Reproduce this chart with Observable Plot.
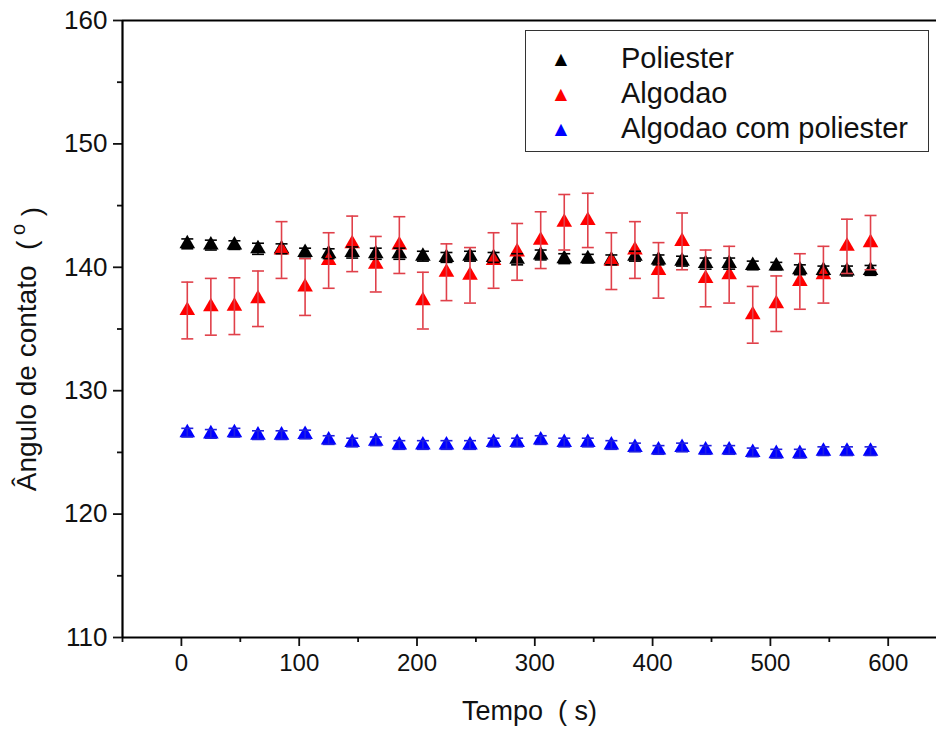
<!DOCTYPE html>
<html>
<head>
<meta charset="utf-8">
<script src="https://cdn.jsdelivr.net/npm/d3@7"></script>
<script src="https://cdn.jsdelivr.net/npm/@observablehq/plot@0.6"></script>
<style>
  body { margin: 0; background: #fff; }
  #wrap { position: relative; width: 936px; height: 733px; font-family: "Liberation Sans", Arial, sans-serif; }
  #legend { position: absolute; left: 525px; top: 30px; width: 404px; height: 122px; border: 1.5px solid #333; background: #fff; box-sizing: border-box; }
  .row { position: absolute; left: 0; height: 35px; display: flex; align-items: center; font-size: 29px; color: #111; white-space: nowrap; }
  .sym { display: inline-block; width: 70px; margin-right: 25px; text-align: center; font-size: 21px; }
</style>
</head>
<body>
<div id="wrap"></div>
<script>
// ---- data ----
const seriesNames = ["Poliester", "Algodao", "Algodao com poliester"];
const seriesColors = ["#000000", "#ff0000", "#0000ff"];
const errColors = ["#000000", "#e0404a", "#2020e0"];
const times = [5, 25, 45, 65, 85, 105, 125, 145, 165, 185, 205, 225, 245, 265, 285, 305, 325, 345, 365, 385, 405, 425, 445, 465, 485, 505, 525, 545, 565, 585];
const poliester = [141.9, 141.8, 141.8, 141.5, 141.5, 141.2, 141.1, 141.2, 141.1, 141.1, 140.9, 140.8, 140.9, 140.8, 140.65, 141.0, 140.7, 140.7, 140.6, 140.9, 140.6, 140.5, 140.3, 140.3, 140.15, 140.1, 139.8, 139.75, 139.7, 139.75];
const poliesterErr = [0.4, 0.4, 0.35, 0.45, 0.4, 0.35, 0.4, 0.45, 0.45, 0.45, 0.4, 0.4, 0.4, 0.4, 0.45, 0.4, 0.4, 0.35, 0.4, 0.4, 0.4, 0.4, 0.45, 0.45, 0.35, 0.3, 0.4, 0.35, 0.4, 0.4];
const algodao = [136.5, 136.8, 136.85, 137.45, 141.4, 138.4, 140.55, 141.9, 140.25, 141.8, 137.3, 139.6, 139.35, 140.55, 141.25, 142.2, 143.65, 143.8, 140.5, 141.4, 139.75, 142.1, 139.1, 139.4, 136.15, 137.05, 138.85, 139.4, 141.7, 142.0];
const algodaoErr = [2.3, 2.3, 2.3, 2.25, 2.3, 2.3, 2.25, 2.25, 2.25, 2.3, 2.3, 2.3, 2.25, 2.25, 2.3, 2.3, 2.25, 2.2, 2.3, 2.3, 2.25, 2.3, 2.3, 2.3, 2.3, 2.25, 2.25, 2.3, 2.2, 2.2];
const mistura = [126.6, 126.5, 126.6, 126.4, 126.4, 126.45, 126.0, 125.8, 125.9, 125.6, 125.6, 125.6, 125.6, 125.8, 125.8, 126.0, 125.8, 125.8, 125.6, 125.4, 125.2, 125.4, 125.2, 125.2, 125.0, 124.9, 124.9, 125.1, 125.1, 125.1];
const misturaErr = [0.35, 0.35, 0.35, 0.35, 0.35, 0.35, 0.35, 0.35, 0.35, 0.35, 0.35, 0.35, 0.35, 0.35, 0.35, 0.35, 0.35, 0.35, 0.35, 0.35, 0.35, 0.35, 0.35, 0.35, 0.35, 0.35, 0.35, 0.35, 0.35, 0.35];
const xTicks = [0, 100, 200, 300, 400, 500, 600];
const xMinorTicks = [-50, 50, 150, 250, 350, 450, 550];
const yTicks = [110, 120, 130, 140, 150, 160];
const yMinorTicks = [115, 125, 135, 145, 155];
const xDomain = [-50, 641];
const yDomain = [110, 160];
const xLabel = "Tempo  ( s)";
const yLabel = "Ângulo de contato  (";
const yLabelSup = "o";
const yLabelEnd = ")";

// ---- build table ----
const values = [poliester, algodao, mistura];
const errs = [poliesterErr, algodaoErr, misturaErr];
const rows = [];
seriesNames.forEach((name, s) => {
  times.forEach((t, i) => {
    rows.push({series: name, s, t, v: values[s][i], lo: values[s][i] - errs[s][i], hi: values[s][i] + errs[s][i]});
  });
});

const cap = {draw(ctx, size) { ctx.moveTo(-6, 0); ctx.lineTo(6, 0); }};

const marks = [];
// markers
seriesNames.forEach((name, s) => {
  marks.push(Plot.dot(rows.filter(d => d.s === s), {x: "t", y: "v", symbol: "triangle", r: 5.8, fill: seriesColors[s], stroke: "none"}));
});
// error bars
seriesNames.forEach((name, s) => {
  const d = rows.filter(r => r.s === s);
  marks.push(Plot.ruleX(d, {x: "t", y1: "lo", y2: "hi", stroke: errColors[s], strokeWidth: 1.6}));
  marks.push(Plot.dot(d, {x: "t", y: "lo", symbol: cap, r: 4, fill: "none", stroke: errColors[s], strokeWidth: 1.6}));
  marks.push(Plot.dot(d, {x: "t", y: "hi", symbol: cap, r: 4, fill: "none", stroke: errColors[s], strokeWidth: 1.6}));
});

const chart = Plot.plot({
  width: 936,
  height: 733,
  marginLeft: 122,
  marginTop: 20,
  marginRight: 0,
  marginBottom: 96,
  style: {fontFamily: "'Liberation Sans', Arial, sans-serif", fontSize: "24px", color: "#111", background: "#fff"},
  x: {domain: xDomain},
  y: {domain: yDomain},
  marks: [
    Plot.axisX({ticks: xTicks, tickSize: 9, tickPadding: 7, tickFormat: d => String(d), label: null, strokeWidth: 1.8, fontSize: 24}),
    Plot.axisX({ticks: xMinorTicks, tickSize: 5, tickFormat: null, text: null, label: null, strokeWidth: 1.8}),
    Plot.axisY({ticks: yTicks, tickSize: 9, tickPadding: 6, tickFormat: d => String(d), label: null, strokeWidth: 1.8, fontSize: 26}),
    Plot.axisY({ticks: yMinorTicks, tickSize: 5, tickFormat: null, text: null, label: null, strokeWidth: 1.8}),
    Plot.ruleY([yDomain[0]], {stroke: "#000", strokeWidth: 2.2}),
    Plot.ruleY([yDomain[1]], {stroke: "#000", strokeWidth: 2.2}),
    Plot.ruleX([xDomain[0]], {stroke: "#000", strokeWidth: 2.2}),
    ...marks,
    Plot.text([xLabel], {frameAnchor: "bottom", dy: 82, fontSize: 27, fill: "#111"}),
    Plot.text([yLabel], {frameAnchor: "left", textAnchor: "middle", dx: -95, dy: 20, rotate: -90, fontSize: 28, fill: "#111", className: "ylab"})
  ]
});
document.getElementById("wrap").appendChild(chart);

// superscript degree mark in the y label
const yl = d3.select(chart).select(".ylab text");
yl.append("tspan").attr("dy", "-0.55em").attr("font-size", "20px").text(" " + yLabelSup);
yl.append("tspan").attr("dy", "0.55em").text(" " + yLabelEnd);

// legend
const legend = document.createElement("div");
legend.id = "legend";
seriesNames.forEach((name, s) => {
  const row = document.createElement("div");
  row.className = "row";
  row.style.top = (10 + s * 35) + "px";
  const sym = document.createElement("span");
  sym.className = "sym";
  sym.style.color = seriesColors[s];
  sym.textContent = "▲";
  const lab = document.createElement("span");
  lab.textContent = name;
  row.appendChild(sym);
  row.appendChild(lab);
  legend.appendChild(row);
});
document.getElementById("wrap").appendChild(legend);
</script>
</body>
</html>
